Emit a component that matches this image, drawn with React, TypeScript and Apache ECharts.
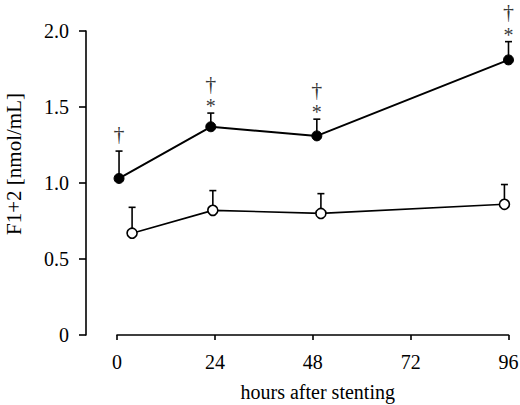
import { useEffect, useRef } from 'react';
import * as echarts from 'echarts';

// 坐标轴刻度
const hoursTicks = [0, 24, 48, 72, 96];
const yTickLabels = ['0', '0.5', '1.0', '1.5', '2.0'];

// 实心点组（均值 + 上误差）
const filledHours = [0.5, 23, 49, 96];
const filledMean = [1.03, 1.37, 1.31, 1.81];
const filledUpper = [1.21, 1.46, 1.42, 1.93];
const filledDagger = ['†', '†', '†', '†'];
const filledStar = ['', '*', '*', '*'];

// 空心点组
const openHours = [3.7, 23.5, 50, 95];
const openMean = [0.67, 0.82, 0.8, 0.86];
const openUpper = [0.84, 0.95, 0.93, 0.99];

const FONT = "'Liberation Serif', 'DejaVu Serif', serif";

function errorSeries(hours: number[], mean: number[], upper: number[]) {
  return {
    type: 'custom',
    z: 1,
    silent: true,
    data: hours.map((h, i) => [h, mean[i], upper[i]]),
    renderItem: (_p: unknown, api: any) => {
      const x = api.value(0);
      const p0 = api.coord([x, api.value(1)]);
      const p1 = api.coord([x, api.value(2)]);
      const style = { stroke: '#000', lineWidth: 1.6 };
      return {
        type: 'group',
        children: [
          { type: 'line', shape: { x1: p0[0], y1: p0[1], x2: p1[0], y2: p1[1] }, style },
          { type: 'line', shape: { x1: p1[0] - 3.5, y1: p1[1], x2: p1[0] + 3.5, y2: p1[1] }, style },
        ],
      };
    },
  };
}

// 误差棒上方的显著性标记（† / *）
function markSeries(marks: string[], fontSize: number, offsetY: (i: number) => number) {
  return {
    type: 'scatter',
    z: 4,
    silent: true,
    symbolSize: 1,
    itemStyle: { color: 'rgba(0,0,0,0)' },
    label: {
      show: true,
      position: 'inside',
      color: '#000',
      fontFamily: FONT,
      fontSize,
      formatter: (p: any) => marks[p.dataIndex],
    },
    data: filledHours.map((h, i) => ({
      value: [h, filledUpper[i]],
      label: { offset: [0, offsetY(i)] },
    })),
  };
}

export default function App() {
  const ref = useRef<HTMLDivElement>(null);

  useEffect(() => {
    if (!ref.current) return;
    const chart = echarts.init(ref.current, undefined, { renderer: 'svg' });
    chart.setOption({
      animation: false,
      backgroundColor: '#fff',
      grid: { left: 117, right: 11.5, top: 31, bottom: 70, outerBoundsMode: 'none' },
      xAxis: {
        type: 'value',
        min: hoursTicks[0],
        max: hoursTicks[hoursTicks.length - 1],
        interval: 24,
        name: 'hours after stenting',
        nameLocation: 'middle',
        nameGap: 47,
        nameTextStyle: { fontFamily: FONT, fontSize: 20, color: '#000', padding: [0, 0, 0, 10] },
        axisLine: { lineStyle: { color: '#000', width: 1.6 } },
        axisTick: { inside: false, length: 5, lineStyle: { color: '#000', width: 1.6 } },
        axisLabel: { margin: 17, fontFamily: FONT, fontSize: 20, color: '#000' },
        splitLine: { show: false },
      },
      yAxis: {
        type: 'value',
        min: 0,
        max: 2,
        interval: 0.5,
        offset: 31,
        name: 'F1+2 [nmol/mL]',
        nameLocation: 'middle',
        nameGap: 62,
        nameTextStyle: { fontFamily: FONT, fontSize: 21, color: '#000', padding: [0, 0, 0, 38] },
        axisLine: { show: true, onZero: false, lineStyle: { color: '#000', width: 1.6 } },
        axisTick: { show: true, length: 7, lineStyle: { color: '#000', width: 1.6 } },
        axisLabel: {
          margin: 17,
          fontFamily: FONT,
          fontSize: 20,
          color: '#000',
          formatter: (v: number) => yTickLabels[Math.round(v / 0.5)] ?? String(v),
        },
        splitLine: { show: false },
      },
      series: [
        errorSeries(filledHours, filledMean, filledUpper),
        errorSeries(openHours, openMean, openUpper),
        {
          type: 'line',
          z: 3,
          data: filledHours.map((h, i) => [h, filledMean[i]]),
          symbol: 'circle',
          symbolSize: 10,
          lineStyle: { color: '#000', width: 2 },
          itemStyle: { color: '#000', borderColor: '#000', borderWidth: 1 },
        },
        {
          type: 'line',
          z: 3,
          data: openHours.map((h, i) => [h, openMean[i]]),
          symbol: 'circle',
          symbolSize: 10,
          lineStyle: { color: '#000', width: 1.6 },
          itemStyle: { color: '#fff', borderColor: '#000', borderWidth: 1.6 },
        },
        markSeries(filledStar, 20, () => -7),
        markSeries(filledDagger, 22, (i) => (filledStar[i] ? -30 : -18)),
      ],
    });
    return () => chart.dispose();
  }, []);

  return (
    <div
      ref={ref}
      style={{ position: 'fixed', left: 0, top: 0, width: 520, height: 405 }}
    />
  );
}
